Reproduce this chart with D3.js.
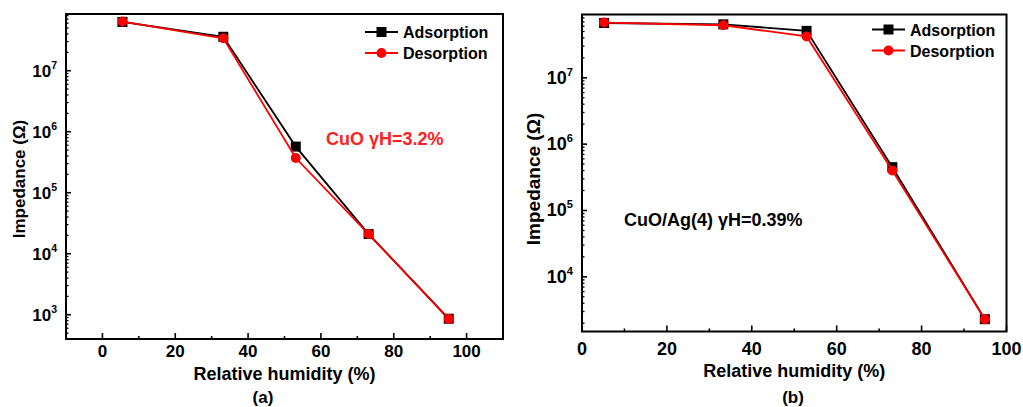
<!DOCTYPE html>
<html><head><meta charset="utf-8">
<script src="https://cdn.jsdelivr.net/npm/d3@7"></script>
<style>body{margin:0;background:#fff}svg{display:block}text{font-family:"Liberation Sans",Arial,sans-serif;font-weight:bold}</style>
</head><body>
<svg id="c" width="1023" height="407"></svg>
<script>
// Data
const humidityA = [5.5, 33.2, 53.1, 73.1, 95.1];
const adsorptionA = [6.3e7, 3.6e7, 5.7e5, 2.1e4, 860];
const desorptionA = [6.4e7, 3.4e7, 3.7e5, 2.1e4, 850];
const humidityB = [5.2, 33.3, 52.9, 73.1, 94.9];
const adsorptionB = [6.7e7, 6.4e7, 5.1e7, 4.5e5, 2.3e3];
const desorptionB = [6.8e7, 6.2e7, 4.2e7, 4.0e5, 2.3e3];
const xTicksA = [0, 20, 40, 60, 80, 100];
const xTicksB = [0, 20, 40, 60, 80, 100];
const yTicksA = [1e3, 1e4, 1e5, 1e6, 1e7];
const yTicksB = [1e4, 1e5, 1e6, 1e7];
const seriesNames = ["Adsorption", "Desorption"];
const colors = ["#000000", "#ff0000"];

const svg = d3.select("#c");

function panel(o) {
  const x = d3.scaleLinear().domain(o.xDomain).range([o.left, o.right]);
  const y = d3.scaleLog().domain(o.yDomain).range([o.bottom, o.top]);
  const g = svg.append("g");
  const lo = Math.floor(Math.log10(o.yDomain[0])), hi = Math.ceil(Math.log10(o.yDomain[1]));
  const minors = [];
  for (let e = lo; e <= hi; e++) for (let m = 2; m <= 9; m++) {
    const v = m * Math.pow(10, e);
    if (v > o.yDomain[0] && v < o.yDomain[1]) minors.push(v);
  }
  g.selectAll(".ym").data(minors).join("line")
    .attr("x1", o.left).attr("x2", o.left + 2.5)
    .attr("y1", d => y(d)).attr("y2", d => y(d))
    .attr("stroke", "#000").attr("stroke-width", 1.3);
  g.selectAll(".yM").data(o.yTicks).join("line")
    .attr("x1", o.left).attr("x2", o.left + 5)
    .attr("y1", d => y(d)).attr("y2", d => y(d))
    .attr("stroke", "#000").attr("stroke-width", 1.6);
  const yl = g.selectAll(".yl").data(o.yTicks).join("text")
    .attr("x", o.left - 9).attr("y", d => y(d) + 6)
    .attr("text-anchor", "end").attr("font-size", o.tickFs);
  yl.append("tspan").text("10");
  yl.append("tspan").attr("dy", -8).attr("font-size", o.tickFs * 0.62).text(d => Math.round(Math.log10(d)));
  const xMinor = d3.range(o.xDomain[0], o.xDomain[1] + 0.01, 10).filter(v => !o.xTicks.includes(v) && v > o.xDomain[0] && v < o.xDomain[1]);
  g.selectAll(".xm").data(xMinor).join("line")
    .attr("x1", d => x(d)).attr("x2", d => x(d))
    .attr("y1", o.bottom).attr("y2", o.bottom - 3)
    .attr("stroke", "#000").attr("stroke-width", 1.6);
  g.selectAll(".xM").data(o.xTicks).join("line")
    .attr("x1", d => x(d)).attr("x2", d => x(d))
    .attr("y1", o.bottom).attr("y2", o.bottom - 6)
    .attr("stroke", "#000").attr("stroke-width", 1.6);
  g.selectAll(".xl").data(o.xTicks).join("text")
    .attr("x", d => x(d)).attr("y", o.xLabY)
    .attr("text-anchor", "middle").attr("font-size", o.tickFs).text(d => d);
  g.append("rect").attr("x", o.left).attr("y", o.top)
    .attr("width", o.right - o.left).attr("height", o.bottom - o.top)
    .attr("fill", "none").attr("stroke", "#000").attr("stroke-width", 2);
  const line = d3.line().x(d => x(d[0])).y(d => y(d[1]));
  o.series.forEach((s, i) => {
    const pts = o.xs.map((v, j) => [v, s[j]]);
    g.append("path").attr("d", line(pts)).attr("fill", "none")
      .attr("stroke", colors[i]).attr("stroke-width", 1.8);
    if (i === 0) {
      g.selectAll(null).data(pts).join("rect")
        .attr("x", d => x(d[0]) - 5).attr("y", d => y(d[1]) - 5)
        .attr("width", 10).attr("height", 10).attr("fill", colors[i]);
    } else {
      g.selectAll(null).data(pts).join("circle")
        .attr("cx", d => x(d[0])).attr("cy", d => y(d[1])).attr("r", 5)
        .attr("fill", colors[i]);
    }
  });
  seriesNames.forEach((n, i) => {
    const ly = o.legY + i * 21;
    g.append("line").attr("x1", o.legX).attr("x2", o.legX + 33)
      .attr("y1", ly).attr("y2", ly).attr("stroke", colors[i]).attr("stroke-width", 1.8);
    if (i === 0) g.append("rect").attr("x", o.legX + 16.5 - 5).attr("y", ly - 5).attr("width", 10).attr("height", 10).attr("fill", colors[i]);
    else g.append("circle").attr("cx", o.legX + 16.5).attr("cy", ly).attr("r", 5).attr("fill", colors[i]);
    g.append("text").attr("x", o.legX + 38).attr("y", ly + 6).attr("font-size", 16).text(n);
  });
  g.append("text").attr("x", o.annX).attr("y", o.annY).attr("font-size", 18)
    .attr("fill", o.annColor).text(o.ann);
  g.append("text").attr("x", (o.left + o.right) / 2).attr("y", o.xTitleY)
    .attr("text-anchor", "middle").attr("font-size", 18).text("Relative humidity (%)");
  g.append("text").attr("transform", `translate(${o.yTitleX},179) rotate(-90)`)
    .attr("text-anchor", "middle").attr("font-size", o.yTitleFs).text("Impedance (Ω)");
  g.append("text").attr("x", o.capX).attr("y", o.capY).attr("text-anchor", "middle")
    .attr("font-size", 17).text(o.cap);
}

panel({left: 66, right: 503, top: 14, bottom: 339, xDomain: [-10, 110], yDomain: [400, 8.5e7],
  xTicks: xTicksA, yTicks: yTicksA, xs: humidityA, series: [adsorptionA, desorptionA],
  legX: 365, legY: 32, ann: "CuO γH=3.2%", annX: 326, annY: 145, annColor: "#ff2020",
  tickFs: 17, xLabY: 357, xTitleY: 380, yTitleX: 25, yTitleFs: 17, capX: 263, capY: 403, cap: "(a)"});
panel({left: 582, right: 1006.5, top: 14.5, bottom: 331.5, xDomain: [0, 100], yDomain: [1500, 9e7],
  xTicks: xTicksB, yTicks: yTicksB, xs: humidityB, series: [adsorptionB, desorptionB],
  legX: 872, legY: 29.5, ann: "CuO/Ag(4) γH=0.39%", annX: 624, annY: 226, annColor: "#000",
  tickFs: 18, xLabY: 355, xTitleY: 377, yTitleX: 540, yTitleFs: 19, capX: 793, capY: 403, cap: "(b)"});
</script>
</body></html>
